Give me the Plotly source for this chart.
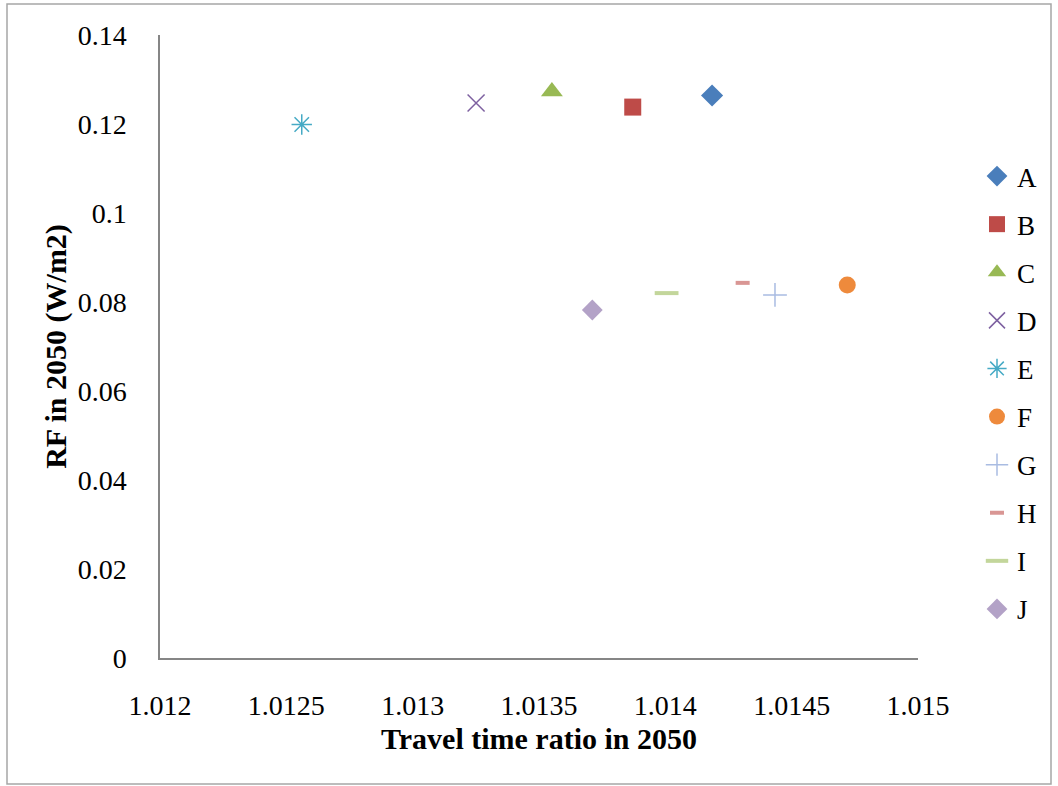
import plotly.graph_objects as go

names = ["A", "B", "C", "D", "E", "F", "G", "H", "I", "J"]
travel_ratio = [1.014185, 1.013871, 1.013551, 1.013251, 1.012561,
                1.01472, 1.014434, 1.014306, 1.014005, 1.013711]
rf_2050 = [0.1264, 0.1238, 0.1273, 0.1247, 0.1199,
           0.0838, 0.0816, 0.0843, 0.0820, 0.0782]
colors = ["#4A7EBB", "#BE4B48", "#98B954", "#7D60A0", "#46AAC5",
          "#EE8A3C", "#A9BCE2", "#D99694", "#C3D69B", "#B3A2C7"]
symbols = ["diamond", "square", "triangle-up", "x-thin-open", "asterisk-open",
           "circle", "cross-thin-open", "line-ew-open", "line-ew-open", "diamond"]
sizes = [17, 17, 19, 17, 17, 17, 17, 10, 17, 16]
line_widths = [0, 0, 0, 1.5, 1.5, 0, 1.5, 4, 4, 0]

x_ticks = [1.012, 1.0125, 1.013, 1.0135, 1.014, 1.0145, 1.015]
y_ticks = [0, 0.02, 0.04, 0.06, 0.08, 0.1, 0.12, 0.14]
y_tick_text = ["0", "0.02", "0.04", "0.06", "0.08", "0.1", "0.12", "0.14"]

fig = go.Figure()
for i, n in enumerate(names):
    fig.add_trace(go.Scatter(
        x=[travel_ratio[i]], y=[rf_2050[i]], mode="markers", name=n,
        legendgroup=n,
        marker=dict(symbol=symbols[i], size=sizes[i], color=colors[i],
                    line=dict(color=colors[i], width=line_widths[i])),
    ))

serif = "Liberation Serif, Times New Roman, serif"
W, H = 1058, 786
L, R, T, B = 160, 140, 35, 128
pw, ph = W - L - R, H - T - B

def px_x(p):
    return (p - L) / pw

def px_y(p):
    return (H - B - p) / ph

fig.add_shape(type="rect", xref="paper", yref="paper",
              x0=px_x(7), x1=px_x(1051), y0=px_y(784), y1=px_y(4),
              line=dict(color="#A6A6A6", width=1.5), fillcolor="rgba(0,0,0,0)")

fig.update_layout(
    width=W, height=H,
    margin=dict(l=L, r=R, t=T, b=B),
    paper_bgcolor="white", plot_bgcolor="white",
    font=dict(family=serif, size=28, color="black"),
    showlegend=True,
    legend=dict(x=px_x(977), y=px_y(152), xanchor="left", yanchor="top",
                font=dict(family=serif, size=27, color="black"),
                tracegroupgap=10, itemwidth=30, bgcolor="rgba(0,0,0,0)"),
    xaxis=dict(range=[1.012, 1.015], tickvals=x_ticks,
               ticktext=[str(v) for v in x_ticks],
               tickfont=dict(family=serif, size=28),
               showgrid=False, zeroline=False, showline=True,
               linecolor="#868686", linewidth=1.5, ticks="",
               ticklabelstandoff=22,
               title=dict(text="<b>Travel time ratio in 2050</b>",
                          font=dict(family=serif, size=30), standoff=8)),
    yaxis=dict(range=[0, 0.14], tickvals=y_ticks, ticktext=y_tick_text,
               tickfont=dict(family=serif, size=28),
               showgrid=False, zeroline=False, showline=True,
               linecolor="#868686", linewidth=1.5, ticks="",
               ticklabelstandoff=26,
               title=dict(text="<b>RF in 2050 (W/m2)</b>",
                          font=dict(family=serif, size=30), standoff=2)),
)

fig.write_html("out.html", config={"displayModeBar": False},
               post_script="document.body.style.margin='0';")
